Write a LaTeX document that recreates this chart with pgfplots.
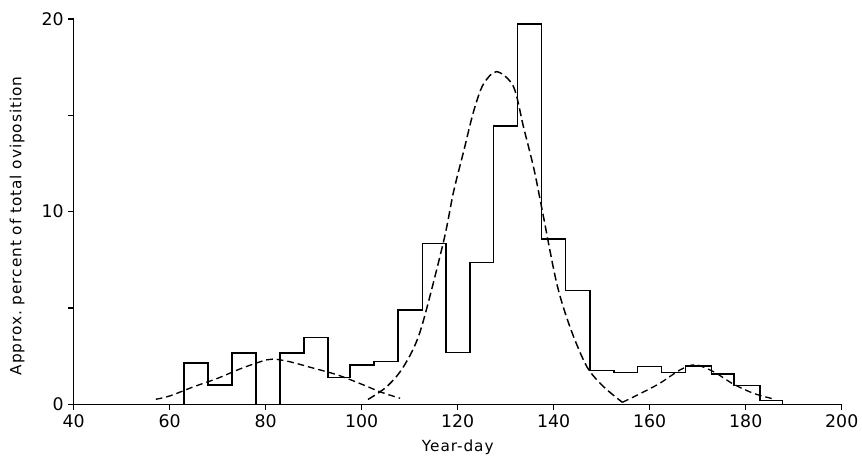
\documentclass[border=0pt]{standalone}
\usepackage{fontspec}
\setmainfont{DejaVu Sans}
\newfontfamily\labfont[LetterSpace=6]{DejaVu Sans}
\usepackage{pgfplots}
\pgfplotsset{compat=1.18}
\begin{document}
\begin{tikzpicture}
\path[use as bounding box] (-55.3pt,-41pt) rectangle (591.2pt,303.2pt);
\begin{axis}[
  scale only axis, width=576pt, height=288.9pt,
  xmin=40, xmax=200, ymin=0, ymax=20,
  axis x line=bottom, axis y line=left,
  axis line style={-, line width=0.9pt},
  xtick={40,60,...,200}, ytick={0,5,10,15,20}, yticklabels={0,,10,,20},
  tick align=outside, major tick length=4pt,
  tick style={line width=0.9pt, black},
  ticklabel style={font=\fontsize{13}{15}\selectfont},
  /pgf/number format/assume math mode=true,
  xlabel={Year-day}, ylabel={Approx.\ percent of total oviposition},
  every axis x label/.style={at={([yshift=-32pt]axis description cs:0.5,0)}, anchor=center, font=\labfont\fontsize{11.5}{14}\selectfont},
  every axis y label/.style={at={([xshift=-42.5pt]axis description cs:0,0.463)}, anchor=center, rotate=90, font=\labfont\fontsize{11.5}{14}\selectfont},
  clip=false,
]
% histogram outline (5-day bins)
\addplot[const plot, black, line width=1.1pt] coordinates {
  (63,0) (63,2.14) (68,0.99) (73,2.66) (78,0) (83,2.66) (88,3.48) (93,1.38)
  (97.6,2.04) (102.6,2.21) (107.6,4.9) (112.7,8.36) (117.6,2.69) (122.6,7.36)
  (127.5,14.45) (132.4,19.75) (137.4,8.58) (142.5,5.9) (147.6,1.75) (152.6,1.64)
  (157.5,1.95) (162.5,1.66) (167.4,1.99) (172.9,1.57) (177.6,0.97) (183,0.2) (187.7,0)
};
% left fitted curve
\addplot[smooth, black, line width=1pt, dash pattern=on 5pt off 3pt] coordinates {
  (57.1,0.26) (60,0.43) (65,0.91) (70,1.35) (75,1.87) (80,2.3) (81.6,2.35)
  (85,2.21) (90,1.87) (95,1.52) (100,1.04) (104,0.63) (108,0.31)
};
% middle fitted curve
\addplot[smooth, black, line width=1.1pt, dash pattern=on 6pt off 3pt] coordinates {
  (101.3,0.25) (105.2,0.91) (108.7,1.95) (112.2,3.8) (117,8.4) (119.1,11.0)
  (121.2,13.1) (123.3,15.2) (125.3,16.6) (128.1,17.27) (131.6,16.5) (133.7,14.4)
  (135.8,12.3) (137.5,10.2) (140.6,6.3) (143.4,4.0) (146.9,1.95) (150.4,0.91) (154.3,0.1)
};
% right fitted curve
\addplot[smooth, black, line width=1pt, dash pattern=on 5pt off 3pt] coordinates {
  (154.3,0.1) (158,0.55) (162.1,1.09) (166.3,1.78) (169.5,2.05) (173.3,1.69)
  (177.4,1.05) (181.6,0.57) (185.4,0.3)
};
\end{axis}
\end{tikzpicture}
\end{document}
